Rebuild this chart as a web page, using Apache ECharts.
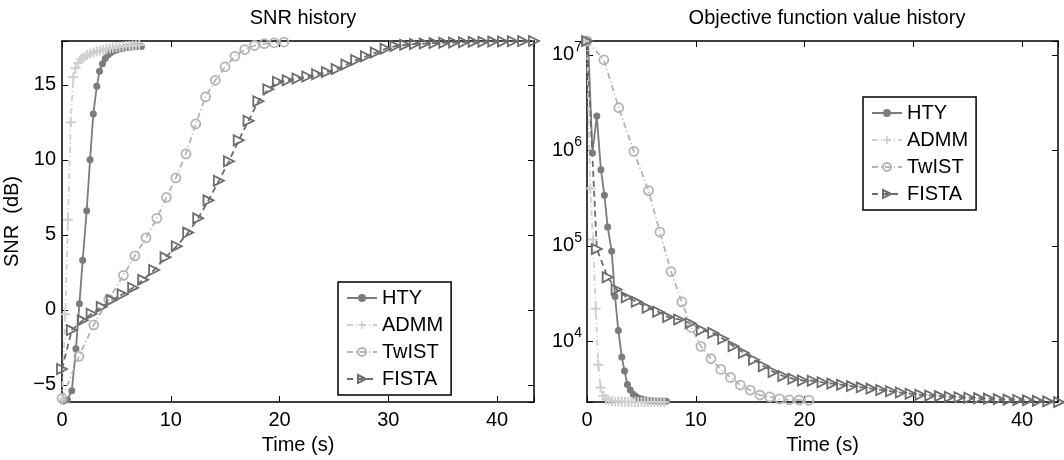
<!DOCTYPE html>
<html>
<head>
<meta charset="utf-8">
<script src="https://cdn.jsdelivr.net/npm/echarts@6/dist/echarts.min.js"></script>
<style>html,body{margin:0;padding:0;background:#fff}#c{width:1064px;height:460px}</style>
</head>
<body>
<div id="c"></div>
<script>
// ---- data ----
const seriesNames = ['HTY', 'ADMM', 'TwIST', 'FISTA'];
const xTicks = [0, 10, 20, 30, 40];
const snrTicks = [-5, 0, 5, 10, 15];
const objTicks = [1e4, 1e5, 1e6, 1e7];

const htyTime = [0.1, 0.5, 0.9, 1.28, 1.6, 1.9, 2.27, 2.58, 2.88, 3.2, 3.45, 3.72, 3.98, 4.25, 4.5, 4.75, 5.0, 5.25, 5.5, 5.75, 6.0, 6.25, 6.5, 6.75, 7.0, 7.3];
const htySnr = [-6.1, -6.0, -5.4, -2.6, 0.4, 3.3, 6.6, 10.0, 13.05, 14.9, 15.9, 16.4, 16.75, 17.0, 17.15, 17.25, 17.32, 17.38, 17.42, 17.46, 17.49, 17.51, 17.53, 17.54, 17.55, 17.56];
const htyObj = [1.4e7, 9.4e5, 2.3e6, 6.3e5, 3.4e5, 1.58e5, 8.8e4, 2.95e4, 1.3e4, 6900, 4900, 3550, 3100, 2800, 2650, 2550, 2500, 2460, 2430, 2410, 2395, 2385, 2378, 2372, 2368, 2365];

const admmTime = [0, 0.3, 0.55, 0.8, 1.04, 1.25, 1.5, 1.75, 2.0, 2.3, 2.6, 2.9, 3.2, 3.5, 3.8, 4.1, 4.4, 4.7, 5.0, 5.3, 5.6, 5.9, 6.2, 6.5, 6.8, 7.1];
const admmSnr = [-6.0, -0.3, 6.0, 12.5, 15.5, 16.1, 16.45, 16.7, 16.85, 16.98, 17.08, 17.16, 17.23, 17.29, 17.34, 17.39, 17.43, 17.47, 17.5, 17.53, 17.56, 17.58, 17.6, 17.62, 17.64, 17.65];
const admmObj = [1.4e7, 4.0e5, 1.17e5, 2.2e4, 5700, 3300, 2700, 2500, 2420, 2380, 2360, 2350, 2340, 2335, 2330, 2327, 2325, 2323, 2322, 2321, 2320, 2320, 2319, 2319, 2318, 2318];

const twistTime = [0, 1.55, 2.92, 4.3, 5.65, 6.7, 7.72, 8.72, 9.6, 10.47, 11.4, 12.3, 13.2, 14.1, 15.0, 15.9, 16.8, 17.7, 18.6, 19.5, 20.4];
const twistSnr = [-5.9, -3.1, -1.0, 0.7, 2.3, 3.6, 4.8, 6.1, 7.5, 8.8, 10.4, 12.4, 14.2, 15.3, 16.2, 16.9, 17.35, 17.62, 17.74, 17.8, 17.85];
const twistObj = [1.4e7, 8.9e6, 2.8e6, 9.8e5, 3.8e5, 1.4e5, 5.4e4, 2.6e4, 1.4e4, 8900, 6600, 5100, 4200, 3500, 3100, 2750, 2630, 2510, 2450, 2440, 2430];

const fistaTime = [0, 0.9, 1.9, 2.72, 3.65, 4.57, 5.57, 6.54, 7.46, 8.47, 9.52, 10.55, 11.6, 12.52, 13.47, 14.42, 15.35, 16.25, 17.15, 18.05, 18.97, 19.85, 20.75, 21.65, 22.55, 23.45, 24.35, 25.25, 26.15, 27.05, 27.95, 28.85, 29.75, 30.65, 31.55, 32.45, 33.35, 34.25, 35.15, 36.05, 36.95, 37.85, 38.75, 39.65, 40.55, 41.45, 42.4, 43.4];
const fistaSnr = [-3.94, -1.35, -0.7, -0.26, 0.2, 0.65, 1.04, 1.47, 2.0, 2.66, 3.5, 4.24, 5.15, 6.1, 7.3, 8.6, 9.9, 11.3, 12.6, 13.9, 14.7, 15.2, 15.3, 15.42, 15.55, 15.7, 15.85, 16.05, 16.35, 16.65, 16.9, 17.15, 17.4, 17.58, 17.66, 17.72, 17.75, 17.78, 17.8, 17.82, 17.84, 17.86, 17.87, 17.88, 17.89, 17.9, 17.91, 17.92];
const fistaObj = [1.4e7, 9.3e4, 4.7e4, 3.5e4, 2.9e4, 2.6e4, 2.25e4, 2.05e4, 1.8e4, 1.7e4, 1.55e4, 1.32e4, 1.23e4, 1.07e4, 8900, 7600, 6450, 5500, 4800, 4350, 4070, 3900, 3880, 3740, 3620, 3520, 3410, 3310, 3210, 3110, 3010, 2920, 2840, 2770, 2720, 2680, 2640, 2610, 2580, 2550, 2520, 2490, 2460, 2440, 2420, 2390, 2360, 2320];

// ---- styles ----
const FONT = '"Liberation Sans", Arial, Helvetica, sans-serif';
const styles = {
  HTY:   {color: '#7c7c7c', type: 'solid',     symbol: 'circle', size: 7, fill: '#7c7c7c'},
  ADMM:  {color: '#cfcfcf', type: [6, 3, 1, 3], symbol: 'path://M4,0H6V4H10V6H6V10H4V6H0V4H4Z', size: 10, fill: '#cfcfcf'},
  TwIST: {color: '#b4b4b4', type: [6, 3, 1, 3], symbol: 'circle', size: 9, fill: 'rgba(255,255,255,0)'},
  FISTA: {color: '#6c6c6c', type: [6, 4],       symbol: 'path://M0,0L10,5L0,10Z', size: 10, fill: 'rgba(255,255,255,0)'}
};
const pairs = (t, v) => t.map((x, i) => [x, v[i]]);
function mk(name, data, xi, yi) {
  const s = styles[name];
  const open = s.fill.indexOf('rgba') === 0;
  return {
    name, type: 'line', xAxisIndex: xi, yAxisIndex: yi, data,
    symbol: s.symbol, symbolSize: s.size, showAllSymbol: true, clip: false,
    lineStyle: {color: s.color, width: 1.8, type: s.type},
    itemStyle: {color: s.fill, borderColor: s.color, borderWidth: open ? 1.8 : 0},
    emphasis: {disabled: true}, animation: false
  };
}

const axisLine = {show: true, onZero: false, lineStyle: {color: '#000', width: 1.5}};
const tickIn = {show: true, inside: true, length: 6, lineStyle: {color: '#000', width: 1}};
const lbl = {fontFamily: FONT, fontSize: 20, color: '#000'};

function xAx(gi, min, max, pos, showLabel, name) {
  return {
    type: 'value', gridIndex: gi, min, max, interval: 10, position: pos,
    axisLine, axisTick: tickIn, splitLine: {show: false},
    axisLabel: Object.assign({show: showLabel, margin: 8,
      formatter: v => (xTicks.indexOf(v) >= 0 ? String(v) : '')}, lbl),
    name: name || '', nameLocation: 'middle', nameGap: 28,
    nameTextStyle: {fontFamily: FONT, fontSize: 20, color: '#000'}
  };
}

const option = {
  backgroundColor: '#fff',
  animation: false,
  title: [
    {text: 'SNR history', left: 298, top: 3, textAlign: 'center', textStyle: {fontFamily: FONT, fontSize: 20, fontWeight: 'normal', color: '#000'}},
    {text: 'Objective function value history', left: 822, top: 3, textAlign: 'center', textStyle: {fontFamily: FONT, fontSize: 20, fontWeight: 'normal', color: '#000'}}
  ],
  grid: [
    {left: 62, top: 41, width: 472, height: 369, show: false},
    {left: 587, top: 41, width: 471, height: 369, show: false}
  ],
  legend: [
    {data: seriesNames, orient: 'vertical', left: 338, top: 282, itemWidth: 30, itemHeight: 10, itemGap: 7, itemTextGap: 4,
     padding: [6, 8, 6, 8], borderColor: '#000', borderWidth: 1.5, backgroundColor: '#fff',
     textStyle: {fontFamily: FONT, fontSize: 20, color: '#000'}, selectedMode: false},
    {data: seriesNames, orient: 'vertical', left: 863, top: 97, itemWidth: 30, itemHeight: 10, itemGap: 7, itemTextGap: 4,
     padding: [6, 8, 6, 8], borderColor: '#000', borderWidth: 1.5, backgroundColor: '#fff',
     textStyle: {fontFamily: FONT, fontSize: 20, color: '#000'}, selectedMode: false}
  ],
  xAxis: [
    xAx(0, 0, 43.4, 'bottom', true, 'Time (s)'),
    xAx(0, 0, 43.4, 'top', false),
    xAx(1, 0, 43.3, 'bottom', true, 'Time (s)'),
    xAx(1, 0, 43.3, 'top', false)
  ],
  yAxis: [
    {type: 'value', gridIndex: 0, min: -6.15, max: 17.92, position: 'left',
     axisLine, axisTick: tickIn, splitLine: {show: false},
     axisLabel: Object.assign({margin: 6, formatter: v => (snrTicks.indexOf(v) >= 0 ? String(v).replace('-', '\u2212') : '')}, lbl),
     name: 'SNR  (dB)', nameLocation: 'middle', nameGap: 40, nameRotate: 90,
     nameTextStyle: {fontFamily: FONT, fontSize: 20, color: '#000'}},
    {type: 'value', gridIndex: 0, min: -6.15, max: 17.92, position: 'right',
     axisLine, axisTick: tickIn, splitLine: {show: false}, axisLabel: {show: false}},
    {type: 'log', logBase: 10, gridIndex: 1, min: 2320, max: 1.4e7, position: 'left',
     axisLine, axisTick: tickIn, splitLine: {show: false},
     axisLabel: Object.assign({margin: 5, formatter: v => {
        const e = Math.round(Math.log10(v));
        if (objTicks.indexOf(Math.pow(10, e)) < 0 || Math.abs(Math.log10(v) - e) > 1e-6) return '';
        return '10{s|' + e + '}';
      }, rich: {s: {fontFamily: FONT, fontSize: 14, color: '#000', verticalAlign: 'top', padding: [0, 0, 16, 0]}}}, lbl)},
    {type: 'log', logBase: 10, gridIndex: 1, min: 2320, max: 1.4e7, position: 'right',
     axisLine, axisTick: tickIn, splitLine: {show: false}, axisLabel: {show: false}}
  ],
  series: [
    mk('HTY', pairs(htyTime, htySnr), 0, 0),
    mk('ADMM', pairs(admmTime, admmSnr), 0, 0),
    mk('TwIST', pairs(twistTime, twistSnr), 0, 0),
    mk('FISTA', pairs(fistaTime, fistaSnr), 0, 0),
    mk('HTY', pairs(htyTime, htyObj), 2, 2),
    mk('ADMM', pairs(admmTime, admmObj), 2, 2),
    mk('TwIST', pairs(twistTime, twistObj), 2, 2),
    mk('FISTA', pairs(fistaTime, fistaObj), 2, 2)
  ]
};
const chart = echarts.init(document.getElementById('c'), null, {renderer: 'canvas'});
chart.setOption(option);
</script>
</body>
</html>
